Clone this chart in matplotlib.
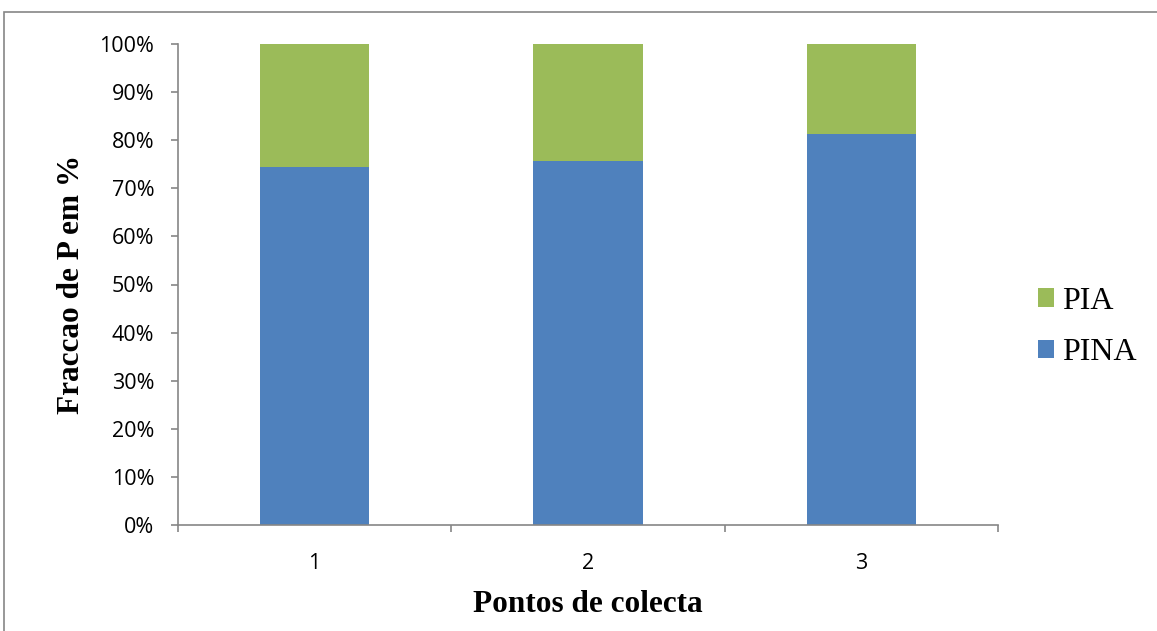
import matplotlib
matplotlib.use("Agg")
import matplotlib.pyplot as plt
from matplotlib.patches import Rectangle
from matplotlib.ticker import PercentFormatter
import numpy as np

categories = ["1", "2", "3"]
pina = [74.5, 75.7, 81.3]
pia = [25.5, 24.3, 18.7]

blue = "#4F81BD"
green = "#9BBB59"
gray = "#868686"

fig = plt.figure(figsize=(11.57, 6.31), dpi=100)
fig.patches.append(Rectangle((4/1157, -0.05), 1.2, 1 - 12/631 + 0.05,
                             transform=fig.transFigure, fill=False,
                             edgecolor=gray, linewidth=1.2))
ax = fig.add_axes([178/1157, 1 - 525/631, 820/1157, 481/631])

x = np.arange(len(categories))
ax.bar(x, pina, width=0.4, color=blue, label="PINA")
ax.bar(x, pia, width=0.4, bottom=pina, color=green, label="PIA")

ax.set_xlim(-0.5, 2.5)
ax.set_ylim(0, 100)
ax.set_yticks(np.arange(0, 101, 10))
ax.yaxis.set_major_formatter(PercentFormatter(decimals=0))
ax.set_xticks(x)
ax.set_xticklabels(categories)
ax.set_xticks([-0.5, 0.5, 1.5, 2.5], minor=True)

for s in ["top", "right"]:
    ax.spines[s].set_visible(False)
for s in ["left", "bottom"]:
    ax.spines[s].set_color(gray)
    ax.spines[s].set_linewidth(1.2)

ax.tick_params(axis="y", which="major", direction="out", length=5, width=1.2,
               color=gray, pad=12, labelsize=15.5)
ax.tick_params(axis="x", which="major", length=0, pad=20, labelsize=15.5)
ax.tick_params(axis="x", which="minor", direction="out", length=5, width=1.2, color=gray)
for lab in ax.get_xticklabels() + ax.get_yticklabels():
    lab.set_fontfamily("Open Sans")

ax.set_xlabel("Pontos de colecta", fontfamily="Liberation Serif", fontweight="bold",
              fontsize=22.5, labelpad=12)
ax.set_ylabel("Fraccao de P em %", fontfamily="Liberation Serif", fontweight="bold",
              fontsize=22.5, labelpad=10)

h, l = ax.get_legend_handles_labels()
fig.legend(h[::-1], l[::-1], loc="center left", bbox_to_anchor=(1038/1157, 1 - 327/631),
           frameon=False, borderpad=0, borderaxespad=0,
           prop={"family": "Liberation Serif", "size": 23},
           handlelength=0.5, handleheight=0.5, handletextpad=0.25, labelspacing=0.7)

fig.savefig("out.png", dpi=100)
